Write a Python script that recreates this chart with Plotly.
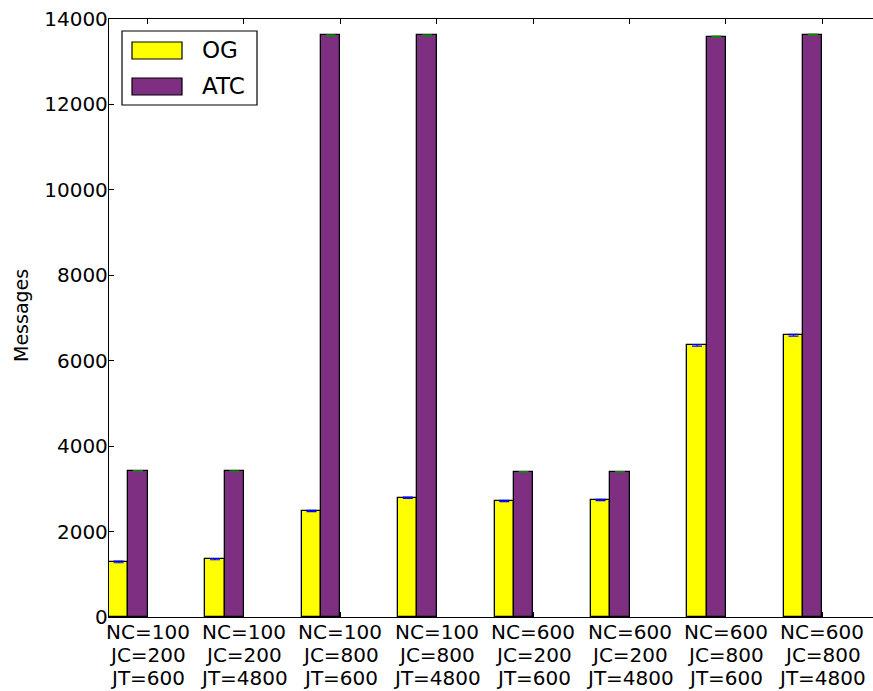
import plotly.graph_objects as go

cat_nc = ["NC=100", "NC=100", "NC=100", "NC=100", "NC=600", "NC=600", "NC=600", "NC=600"]
cat_jc = ["JC=200", "JC=200", "JC=800", "JC=800", "JC=200", "JC=200", "JC=800", "JC=800"]
cat_jt = ["JT=600", "JT=4800", "JT=600", "JT=4800", "JT=600", "JT=4800", "JT=600", "JT=4800"]
og_values = [1290, 1355, 2480, 2790, 2715, 2740, 6360, 6595]
atc_values = [3420, 3410, 13615, 13615, 3395, 3395, 13585, 13630]
og_err = [20, 15, 15, 15, 15, 15, 20, 20]
atc_err = [10, 10, 15, 15, 10, 10, 15, 15]
y_ticks = [0, 2000, 4000, 6000, 8000, 10000, 12000, 14000]

W = 0.2
idx = list(range(len(cat_nc)))
og_x = [i + W / 2 for i in idx]
atc_x = [i + W * 1.5 for i in idx]
tick_x = [i + W * 2 for i in idx]

OG_COLOR = "#ffff00"
ATC_COLOR = "#7f2f82"
FONT = "DejaVu Sans"

# page body margin is removed (see post_script), so figure pixels == page pixels
FIG_W, FIG_H = 873, 691
L, T, R_EDGE, B_EDGE = 109, 19, 873, 617
PW, PH = R_EDGE - L, B_EDGE - T

def px(xp):
    return (xp - L) / PW
def py(yp):
    return 1 - (yp - T) / PH

fig = go.Figure()
fig.add_trace(go.Bar(
    x=og_x, y=og_values, width=W, name="OG",
    marker=dict(color=OG_COLOR, line=dict(color="black", width=1.3)),
    error_y=dict(type="data", array=og_err, color="blue", thickness=1.2, width=5),
    showlegend=False,
))
fig.add_trace(go.Bar(
    x=atc_x, y=atc_values, width=W, name="ATC",
    marker=dict(color=ATC_COLOR, line=dict(color="black", width=1.3)),
    error_y=dict(type="data", array=atc_err, color="#1f7a1f", thickness=1.2, width=5),
    showlegend=False,
))

# matplotlib-style legend: box + swatches + labels
shapes = [
    dict(type="rect", xref="paper", yref="paper", x0=px(122), x1=px(257), y0=py(105), y1=py(31),
         line=dict(color="black", width=1.2), fillcolor="white", layer="above"),
    dict(type="rect", xref="paper", yref="paper", x0=px(132), x1=px(182), y0=py(59), y1=py(42),
         line=dict(color="black", width=1.2), fillcolor=OG_COLOR, layer="above"),
    dict(type="rect", xref="paper", yref="paper", x0=px(132), x1=px(182), y0=py(95), y1=py(78),
         line=dict(color="black", width=1.2), fillcolor=ATC_COLOR, layer="above"),
]
annotations = [
    dict(xref="paper", yref="paper", x=px(200), y=py(50), text="OG", showarrow=False,
         xanchor="left", yanchor="middle", font=dict(family=FONT, size=23, color="black")),
    dict(xref="paper", yref="paper", x=px(200), y=py(86), text="ATC", showarrow=False,
         xanchor="left", yanchor="middle", font=dict(family=FONT, size=23, color="black")),
    dict(xref="paper", yref="paper", x=px(21), y=py(316), text="Messages", showarrow=False,
         textangle=-90, xanchor="center", yanchor="middle",
         font=dict(family=FONT, size=19, color="black")),
]
# three-line category labels under each tick (tight line spacing as in the reference)
for lines, ypix in ((cat_nc, 632), (cat_jc, 655), (cat_jt, 678)):
    for xv, txt in zip(tick_x, lines):
        annotations.append(dict(
            xref="x", yref="paper", x=xv, y=py(ypix), text=txt, showarrow=False,
            xanchor="center", yanchor="middle", font=dict(family=FONT, size=20, color="black"),
        ))

fig.update_layout(
    width=FIG_W, height=FIG_H,
    margin=dict(l=L, r=FIG_W - R_EDGE, t=T, b=FIG_H - B_EDGE, autoexpand=False),
    paper_bgcolor="white", plot_bgcolor="white",
    barmode="overlay", bargap=0,
    font=dict(family=FONT, size=20, color="black"),
    shapes=shapes, annotations=annotations,
    xaxis=dict(
        range=[0, PW / 96.4], tickvals=tick_x, ticktext=[""] * len(tick_x),
        showline=True, linecolor="black", linewidth=1.3, mirror="ticks",
        ticks="inside", ticklen=5, tickcolor="black", showgrid=False, zeroline=False,
        automargin=False,
    ),
    yaxis=dict(
        range=[0, 14000], tickvals=y_ticks, ticktext=[str(v) for v in y_ticks],
        showline=True, linecolor="black", linewidth=1.3, mirror=False,
        ticks="inside", ticklen=5, tickcolor="black", showgrid=False, zeroline=False,
        tickfont=dict(family=FONT, size=20), automargin=False, ticklabelstandoff=-4,
        ticklabeloverflow="allow",
    ),
)

fig.write_html(
    "out.html",
    config={"displayModeBar": False},
    post_script="document.documentElement.style.overflow='hidden';"
                "document.body.style.margin='0';document.body.style.overflow='hidden';",
)
